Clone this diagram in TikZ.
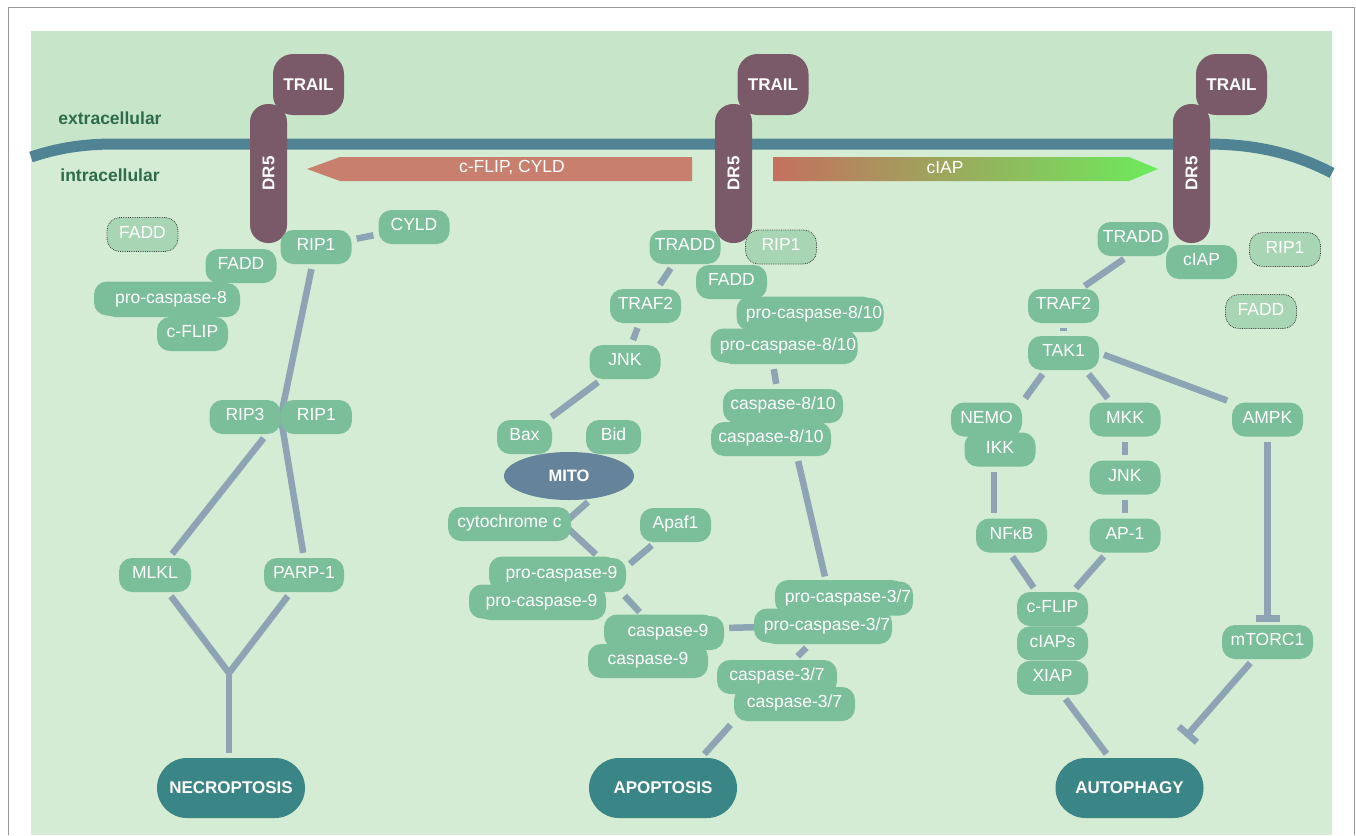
\documentclass[tikz,border=0pt]{standalone}
\usepackage{fontspec}
\setmainfont{Liberation Sans}
\usetikzlibrary{positioning, arrows.meta, shapes.geometric, backgrounds}

\definecolor{extracol}{RGB}{199,230,201}
\definecolor{intracol}{RGB}{211,236,211}
\definecolor{membrane}{RGB}{80,132,148}
\definecolor{receptor}{RGB}{122,89,104}
\definecolor{protgreen}{RGB}{122,190,154}
\definecolor{offgreen}{RGB}{168,214,180}
\definecolor{linkblue}{RGB}{141,164,181}
\definecolor{fategreen}{RGB}{58,133,133}
\definecolor{mitoblue}{RGB}{101,131,154}
\definecolor{labelgreen}{RGB}{46,107,75}
\definecolor{salmon}{RGB}{200,127,109}
\definecolor{iapred}{RGB}{196,112,94}
\definecolor{iapgreen}{RGB}{108,235,92}

\begin{document}
\begin{tikzpicture}[x=1pt, y=-1pt,
  every node/.style={text=white, inner xsep=1pt, inner ysep=0pt},
  prot/.style={fill=protgreen, rounded corners=13pt, minimum width=71pt, minimum height=34pt,
    text height=12.5pt, text depth=5pt, font=\fontsize{17.5}{20}\selectfont},
  dimer/.style={preaction={fill=protgreen, transform canvas={xshift=-8pt, yshift=1.5pt}}},
  offprot/.style={prot, fill=offgreen, draw=black!75, densely dotted, line width=0.8pt},
  trail/.style={fill=receptor, rounded corners=20pt, minimum width=71pt, minimum height=61pt,
    font=\bfseries\fontsize{17}{20}\selectfont},
  dr/.style={fill=receptor, rounded corners=18pt, minimum width=139pt, minimum height=37pt,
    rotate=90, font=\bfseries\fontsize{17}{20}\selectfont},
  fate/.style={fill=fategreen, rounded corners=30pt, minimum width=148pt, minimum height=60pt,
    font=\bfseries\fontsize{17}{20}\selectfont},
  organelle/.style={ellipse, fill=mitoblue, minimum width=130pt, minimum height=48pt,
    inner sep=0pt, font=\bfseries\fontsize{16.5}{18}\selectfont},
  link/.style={draw=linkblue, line width=6.5pt, shorten <=5pt, shorten >=5pt},
  regionlabel/.style={text=labelgreen, font=\bfseries\fontsize{17.5}{20}\selectfont}]

  \useasboundingbox (0,0) rectangle (1356,835);
  \draw[black!40, line width=1pt] (8,835) -- (8,7) -- (1354,7) -- (1354,835);

  % Cell and membrane
  \begin{scope}[on background layer]
    \fill[intracol] (31,31) rectangle (1332,835);
    \fill[extracol] (31,31) -- (1332,31) -- (1332,173) .. controls (1290,151) and (1250,144) .. (1205,144)
      -- (115,144) .. controls (80,144) and (55,149) .. (31,157) -- cycle;
    \draw[membrane, line width=11pt] (31,157) .. controls (55,149) and (80,144) .. (115,144)
      -- (1205,144) .. controls (1250,144) and (1290,151) .. (1332,173);

    \fill[salmon] (307,169) -- (340,157) -- (692,157) -- (692,181) -- (340,181) -- cycle;
    \node[font=\fontsize{17.5}{20}\selectfont] (flipcyld) at (512,168) {c-FLIP, CYLD};
    \shade[left color=iapred, right color=iapgreen] (773,157) -- (1129,157) -- (1158,169) -- (1129,181) -- (773,181) -- cycle;
    \node[font=\fontsize{17.5}{20}\selectfont] (iaparrow) at (945,168) {cIAP};
  \end{scope}

  \node[regionlabel] (extra) at (110,118) {extracellular};
  \node[regionlabel] (intra) at (110,175) {intracellular};

  % Receptors
  \node[trail] (trailL) at (308.5,84.5) {TRAIL};
  \node[dr] (drL) at (268.5,173.5) {DR5};
  \node[trail] (trailM) at (773,84.5) {TRAIL};
  \node[dr] (drM) at (733.5,173.5) {DR5};
  \node[trail] (trailR) at (1231.5,84.5) {TRAIL};
  \node[dr] (drR) at (1191.5,173.5) {DR5};

  % Left column (necroptosis)
  \node[offprot] (faddoffL) at (142.5,234.5) {FADD};
  \node[prot] (rip1a) at (316,247) {RIP1};
  \node[prot] (cyld) at (414,227) {CYLD};
  \node[prot] (faddL) at (241,266) {FADD};
  \node[prot, dimer, minimum width=138pt] (pc8) at (171,300) {pro-caspase-8};
  \node[prot] (cflipL) at (192.5,334) {c-FLIP};
  \node[prot] (rip3) at (245,417) {RIP3};
  \node[prot, right=0pt of rip3] (rip1b) {RIP1};
  \node[prot, minimum width=72pt] (mlkl) at (155,575) {MLKL};
  \node[prot, minimum width=80pt] (parp) at (304,575) {PARP-1};
  \node[fate] (necro) at (231,788) {NECROPTOSIS};

  % Middle column (apoptosis)
  \node[prot] (traddM) at (685,247) {TRADD};
  \node[offprot] (rip1offM) at (781,247) {RIP1};
  \node[prot] (faddM) at (731.5,282) {FADD};
  \node[prot] (traf2M) at (645.5,306) {TRAF2};
  \node[prot, dimer, minimum width=139pt] (pc810a) at (814,315) {pro-caspase-8/10};
  \node[prot, dimer, minimum width=139pt] (pc810b) at (788,347) {pro-caspase-8/10};
  \node[prot] (jnkM) at (625,362) {JNK};
  \node[prot, minimum width=120pt] (c810a) at (783,406) {caspase-8/10};
  \node[prot, minimum width=120pt] (c810b) at (771,439) {caspase-8/10};
  \node[prot, minimum width=55pt] (bax) at (524.5,437) {Bax};
  \node[prot, minimum width=55pt] (bid) at (613.5,437) {Bid};
  \node[organelle] (mito) at (569,476) {MITO};
  \node[prot, minimum width=123pt] (cytc) at (509.5,524) {cytochrome c};
  \node[prot] (apaf) at (675.5,525) {Apaf1};
  \node[prot, dimer, minimum width=129pt] (pc9a) at (561.5,575) {pro-caspase-9};
  \node[prot, dimer, minimum width=129pt] (pc9b) at (541.5,603) {pro-caspase-9};
  \node[prot, dimer, minimum width=112pt] (c9a) at (668,633) {caspase-9};
  \node[prot, minimum width=120pt] (c9b) at (648,661) {caspase-9};
  \node[prot, dimer, minimum width=130pt] (pc37a) at (848,598.5) {pro-caspase-3/7};
  \node[prot, dimer, minimum width=130pt] (pc37b) at (827,627) {pro-caspase-3/7};
  \node[prot, minimum width=120pt] (c37a) at (777,677) {caspase-3/7};
  \node[prot, minimum width=121pt] (c37b) at (794.5,704) {caspase-3/7};
  \node[fate] (apop) at (663,788) {APOPTOSIS};

  % Right column (autophagy)
  \node[prot] (traddR) at (1133,239) {TRADD};
  \node[prot] (ciap) at (1201.5,262) {cIAP};
  \node[offprot] (rip1offR) at (1285,249.5) {RIP1};
  \node[offprot] (faddoffR) at (1261,311.5) {FADD};
  \node[prot] (traf2R) at (1063.5,306) {TRAF2};
  \node[prot] (tak1) at (1063.5,353) {TAK1};
  \node[prot] (nemo) at (986.5,419.5) {NEMO};
  \node[prot] (ikk) at (1000,449.5) {IKK};
  \node[prot] (mkk) at (1125,419.5) {MKK};
  \node[prot] (jnkR) at (1125,477.5) {JNK};
  \node[prot] (ampk) at (1267.5,419.5) {AMPK};
  \node[prot] (nfkb) at (1011.5,535.5) {NFκB};
  \node[prot] (ap1) at (1125,535.5) {AP-1};
  \node[prot] (cflipR) at (1052.5,609) {c-FLIP};
  \node[prot, below=0pt of cflipR] (ciaps) {cIAPs};
  \node[prot, below=0pt of ciaps] (xiap) {XIAP};
  \node[prot, minimum width=91pt] (mtor) at (1267.5,642) {mTORC1};
  \node[fate] (auto) at (1129.5,788) {AUTOPHAGY};

  % Connectors
  \begin{scope}[on background layer]
    \draw[link] (rip1a) -- (cyld);
    \draw[link, shorten >=0pt] (rip1a) -- (rip3.east);
    \draw[link, shorten <=0pt] (rip3.east) -- (parp.north);
    \draw[link] ([xshift=-14pt]rip3.south east) -- ([xshift=14pt]mlkl.north);
    \coordinate (necmerge) at (229,673);
    \draw[link] (mlkl) -- (necmerge) -- (parp);
    \draw[link, shorten <=0pt] (necmerge) -- (necmerge |- necro.north);

    \draw[link] (traddM) -- (traf2M);
    \draw[link] (traf2M) -- (jnkM);
    \draw[link] (jnkM) -- (bax);
    \draw[link] (mito.-45) -- ([xshift=-8pt]cytc.east) -- ([xshift=38pt]pc9a.north);
    \draw[link] ([xshift=-20pt]apaf.south) -- ([yshift=8pt]pc9a.east);
    \draw[link] ([xshift=-5pt]pc9a.south east) -- ([xshift=-25pt]c9a.north);
    \draw[link] ([yshift=5pt]c9a.east) -- (pc37b.west);
    \draw[link] ([xshift=-15pt]pc810b.south) -- ([xshift=-6pt]c810a.north);
    \draw[link] ([xshift=26pt]c810b.south) -- ([xshift=-22pt]pc37a.north);
    \draw[link] (pc37b) -- (c37a);
    \draw[link] (c37b.south west) -- ([xshift=38pt]apop.north);

    \draw[link] ([xshift=-5pt]traddR.south) -- ([xshift=17pt]traf2R.north);
    \draw[link] (traf2R) -- (tak1);
    \draw[link] ([xshift=-18pt]tak1.south) -- (nemo.north east);
    \draw[link] ([xshift=22pt]tak1.south) -- ([xshift=-14pt]mkk.north);
    \draw[link] (tak1.east) -- (ampk.north west);
    \draw[link] ([xshift=-6pt]ikk.south) -- ([xshift=-17.5pt]nfkb.north);
    \draw[link] (mkk) -- (jnkR);
    \draw[link] (jnkR) -- (ap1);
    \draw[link, -{Bar[width=24pt]}, shorten >=3pt] (ampk) -- (mtor);
    \draw[link] ([xshift=-2pt]nfkb.south) -- ([xshift=-16pt]cflipR.north);
    \draw[link] ([xshift=-18pt]ap1.south) -- ([xshift=20pt]cflipR.north);
    \draw[link] ([xshift=10pt]xiap.south) -- ([xshift=-20pt]auto.north);
    \draw[link, -{Bar[width=24pt]}, shorten >=0pt] ([xshift=-14pt]mtor.south) -- ([xshift=-18pt,yshift=21pt]auto.north east);
  \end{scope}
\end{tikzpicture}
\end{document}
